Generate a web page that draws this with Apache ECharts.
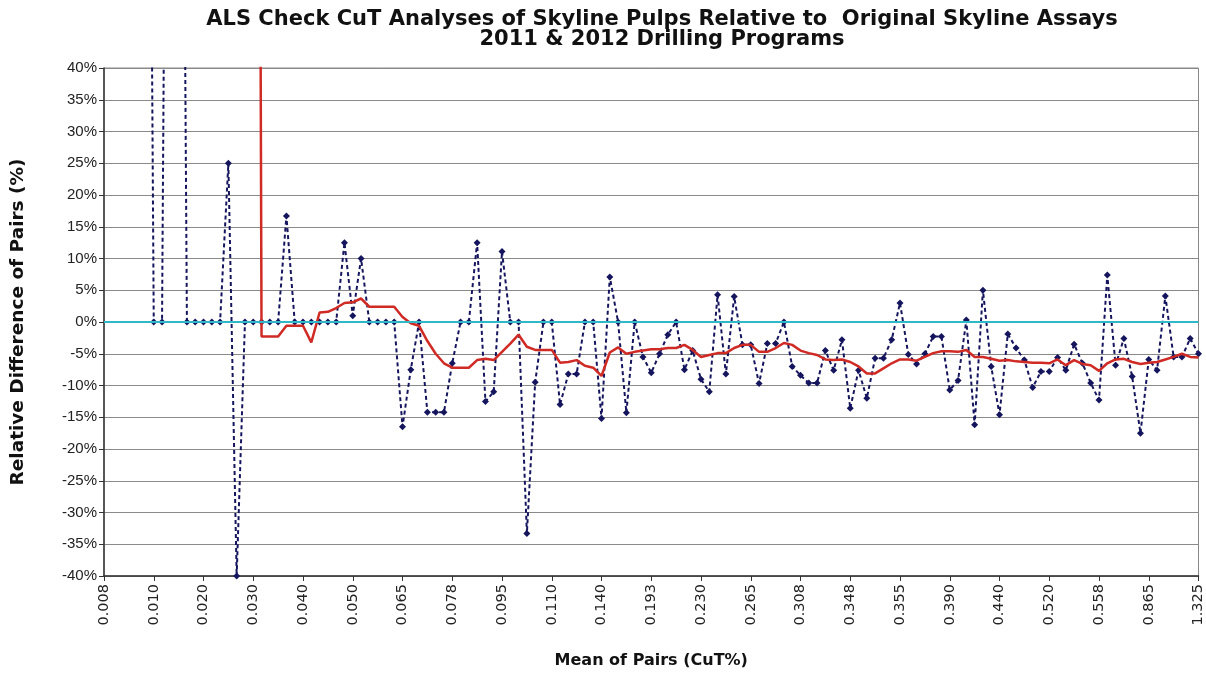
<!DOCTYPE html>
<html lang="en">
<head>
    <meta charset="UTF-8">
    <title>ALS Check CuT Analyses</title>
    <script src="https://cdn.jsdelivr.net/npm/echarts@6/dist/echarts.min.js"></script>
</head>
<body style="margin:0;background:#fff;">
<div id="main" style="width:1206px;height:677px;"></div>
<script>
    // x axis tick labels, one every 6 pairs (Mean of Pairs, CuT%)
    const tickLabels = ['0.008', '0.010', '0.020', '0.030', '0.040', '0.050', '0.065', '0.078', '0.095', '0.110', '0.140',
        '0.193', '0.230', '0.265', '0.308', '0.348', '0.355', '0.390', '0.440', '0.520', '0.558', '0.865', '1.325'];
    const labelStep = 6;

    // relative difference of each pair (%), sorted by mean of pairs
    const relDiff = [200, 200, 200, 200, 200, 200, 0, 0, 200, 200,
        0, 0, 0, 0, 0, 25, -40, 0, 0, 0,
        0, 0, 16.7, 0, 0, 0, 0, 0, 0, 12.5,
        1, 10, 0, 0, 0, 0, -16.5, -7.5, 0, -14.2,
        -14.2, -14.2, -6.5, 0, 0, 12.5, -12.5, -11, 11.1, 0,
        0, -33.3, -9.5, 0, 0, -13, -8.2, -8.2, 0, 0,
        -15.2, 7.1, 0, -14.3, 0, -5.5, -8, -5, -2, 0,
        -7.5, -4.5, -9, -11, 4.3, -8.2, 4, -3.6, -3.6, -9.7,
        -3.4, -3.4, 0, -7, -8.4, -9.6, -9.6, -4.5, -7.6, -2.8,
        -13.6, -7.6, -12, -5.7, -5.7, -2.8, 3, -5.1, -6.6, -5,
        -2.3, -2.3, -10.7, -9.2, 0.3, -16.2, 5, -7, -14.6, -1.9,
        -4.1, -6, -10.3, -7.8, -7.8, -5.6, -7.6, -3.5, -6.5, -9.6,
        -12.3, 7.4, -6.8, -2.6, -8.6, -17.5, -5.9, -7.6, 4.1, -5.5,
        -5.5, -2.6, -5];

    // moving average (%)
    const movingAvg = [null, null, null, null, null, null, null, null, null, null,
        null, null, null, null, null, null, null, null, 400, -2.3,
        -2.3, -2.3, -0.6, -0.6, -0.6, -3.2, 1.5, 1.6, 2.2, 3.0,
        3.1, 3.7, 2.4, 2.4, 2.4, 2.4, 0.8, -0.2, -0.6, -3,
        -5, -6.5, -7.2, -7.2, -7.2, -6, -5.8, -6, -4.7, -3.4,
        -2, -3.9, -4.4, -4.4, -4.4, -6.4, -6.3, -6, -6.9, -7.2,
        -8.5, -4.8, -4, -5, -4.7, -4.5, -4.3, -4.3, -4.1, -4.1,
        -3.6, -4.4, -5.5, -5.2, -4.9, -4.9, -4.1, -3.6, -3.6, -4.7,
        -4.7, -4.1, -3.3, -3.6, -4.5, -4.9, -5.2, -5.9, -6, -5.9,
        -6.3, -7, -8.1, -8.1, -7.3, -6.5, -5.9, -5.9, -6.1, -5.5,
        -4.9, -4.6, -4.6, -4.7, -4.4, -5.5, -5.5, -5.8, -6.1, -6,
        -6.2, -6.3, -6.4, -6.4, -6.5, -5.9, -6.8, -6, -6.6, -6.8,
        -7.7, -6.5, -5.9, -5.8, -6.3, -6.6, -6.4, -6.3, -5.9, -5.5,
        -5, -5.5, -5.6];

    // category per pair, labelled only every 6th
    const categories = relDiff.map((v, i) => 'p' + i);

    const labelFont = 'Liberation Sans, Arial, sans-serif';
    const boldFont = 'DejaVu Sans, Verdana, sans-serif';

    var myChart = echarts.init(document.getElementById('main'));
    var option = {
        animation: false,
        backgroundColor: '#fff',
        title: {
            text: 'ALS Check CuT Analyses of Skyline Pulps Relative to  Original Skyline Assays\n2011 & 2012 Drilling Programs',
            left: 657,
            top: 5,
            textAlign: 'center',
            textStyle: {
                fontFamily: boldFont,
                fontSize: 21,
                fontWeight: 'bold',
                color: '#111',
                lineHeight: 20
            }
        },
        grid: {
            left: 104,
            right: 5,
            top: 68,
            bottom: 101,
            show: true,
            borderColor: '#888',
            borderWidth: 1
        },
        xAxis: {
            type: 'category',
            data: categories,
            boundaryGap: false,
            name: 'Mean of Pairs (CuT%)',
            nameLocation: 'middle',
            nameGap: 77,
            nameTextStyle: {
                fontFamily: boldFont,
                fontSize: 16,
                fontWeight: 'bold',
                color: '#111'
            },
            axisLine: {onZero: false, lineStyle: {color: '#333', width: 1.5}},
            axisTick: {
                show: true,
                interval: labelStep - 1,
                length: 5,
                lineStyle: {color: '#333'}
            },
            axisLabel: {
                interval: labelStep - 1,
                rotate: 90,
                margin: 8,
                fontFamily: 'DejaVu Sans, sans-serif',
                fontSize: 14.5,
                color: '#222',
                formatter: function (value, index) {
                    return tickLabels[index / labelStep] || '';
                }
            },
            splitLine: {show: false}
        },
        yAxis: {
            type: 'value',
            min: -40,
            max: 40,
            interval: 5,
            name: 'Relative Difference of Pairs (%)',
            nameLocation: 'middle',
            nameGap: 76,
            nameRotate: 90,
            nameTextStyle: {
                fontFamily: boldFont,
                fontSize: 18.5,
                fontWeight: 'bold',
                color: '#111'
            },
            axisLine: {show: true, lineStyle: {color: '#333', width: 1.5}},
            axisTick: {show: true, length: 5, lineStyle: {color: '#333'}},
            axisLabel: {
                formatter: '{value}%',
                margin: 7,
                fontFamily: labelFont,
                fontSize: 15,
                color: '#222'
            },
            splitLine: {lineStyle: {color: '#8a8a8a', width: 1.2}}
        },
        series: [
            {
                name: 'zero',
                type: 'line',
                data: [],
                z: 1,
                markLine: {
                    silent: true,
                    symbol: 'none',
                    label: {show: false},
                    lineStyle: {color: '#2fb8c8', width: 2, type: 'solid'},
                    data: [{yAxis: 0}]
                }
            },
            {
                name: 'Relative Difference',
                type: 'line',
                data: relDiff,
                z: 2,
                showAllSymbol: true,
                symbol: 'diamond',
                symbolSize: 7,
                itemStyle: {color: '#15155e'},
                lineStyle: {color: '#15155e', width: 2, type: [4, 3]}
            },
            {
                name: 'Moving Average',
                type: 'line',
                data: movingAvg,
                z: 3,
                symbol: 'none',
                connectNulls: false,
                lineStyle: {color: '#d02a24', width: 2.5}
            }
        ]
    };
    myChart.setOption(option);
</script>
</body>
</html>
